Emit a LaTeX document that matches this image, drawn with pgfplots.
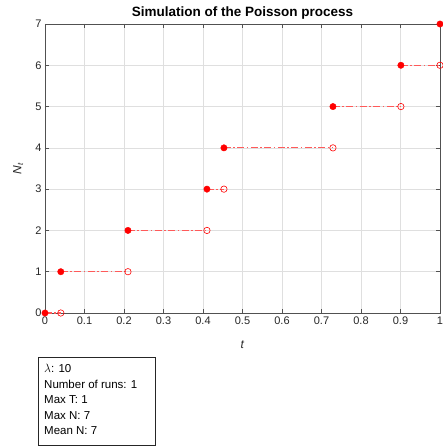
\documentclass[border=0pt]{standalone}
\usepackage{pgfplots}
\pgfplotsset{compat=1.18}
\usepackage{fontspec}
\setmainfont{Liberation Sans}
\definecolor{axgray}{RGB}{38,38,38}
\definecolor{gridgray}{RGB}{223,223,223}
\definecolor{lred}{RGB}{255,90,90}
\begin{document}
\begin{tikzpicture}
\path[use as bounding box] (0pt,0pt) rectangle (443pt,448pt);
\begin{axis}[
  at={(45pt,135pt)}, anchor=south west,
  scale only axis, width=395pt, height=289pt,
  xmin=0, xmax=1, ymin=0, ymax=7,
  xtick={0,0.1,0.2,0.3,0.4,0.5,0.6,0.7,0.8,0.9,1}, ytick={0,1,2,3,4,5,6,7},
  xticklabel={\pgfmathprintnumber[assume math mode=true]{\tick}},
  yticklabel={\pgfmathprintnumber[assume math mode=true]{\tick}},
  xticklabel style={font=\fontsize{11}{13}\selectfont, text=axgray},
  yticklabel style={font=\fontsize{11}{13}\selectfont, text=axgray},
  grid=major, major grid style={gridgray, line width=0.5pt},
  axis line style={axgray!80, line width=0.6pt},
  tick style={axgray!80, line width=0.5pt},
  tick align=inside, major tick length=4pt,
  xtick pos=both, ytick pos=both,
  title={\textbf{Simulation of the Poisson process}},
  title style={font=\fontsize{13.5}{15}\selectfont, text=black, yshift=-5pt},
  xlabel={\textit{t}}, ylabel={\textit{N}\textsubscript{\textit{t}}},
  xlabel style={font=\fontsize{12}{14}\selectfont, text=axgray, yshift=-10pt},
  ylabel style={font=\fontsize{12}{14}\selectfont, text=axgray, at={(axis description cs:-0.068,0.5)}, anchor=center},
  clip=false,
]
\addplot[draw=lred, solid, dash pattern=on 7pt off 2.5pt on 1.5pt off 2.5pt, line width=1.2pt, unbounded coords=jump, mark=none] coordinates {
(0,0) (0.04,0)
(nan,nan)
(0.04,1) (0.21,1)
(nan,nan)
(0.21,2) (0.41,2)
(nan,nan)
(0.41,3) (0.453,3)
(nan,nan)
(0.453,4) (0.729,4)
(nan,nan)
(0.729,5) (0.901,5)
(nan,nan)
(0.901,6) (1.0,6)
};
\addplot[only marks, mark=*, mark size=3.2pt, red, mark options={fill=red, draw=red}] coordinates {
(0,0) (0.04,1) (0.21,2) (0.41,3) (0.453,4) (0.729,5) (0.901,6) (1.0,7)
};
\addplot[only marks, mark=o, mark size=3.2pt, red, mark options={draw=red, line width=0.6pt, fill=white}] coordinates {
(0.04,0) (0.21,1) (0.41,2) (0.453,3) (0.729,4) (0.901,5) (1.0,6)
};
\end{axis}
\draw[black!85, line width=0.6pt] (38pt,3pt) rectangle (155pt,91pt);
\node[anchor=north west, align=left, font=\fontsize{11.5}{15.5}\selectfont, inner sep=0pt] at (44pt,84pt)
{$\lambda$: 10\\Number of runs: 1\\Max T: 1\\Max N: 7\\Mean N: 7};
\end{tikzpicture}
\end{document}
